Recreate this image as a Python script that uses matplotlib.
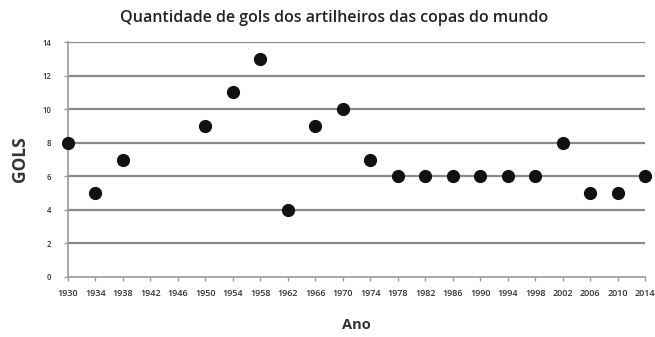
import matplotlib.pyplot as plt
import numpy as np

plt.rcParams['font.family'] = ['Open Sans', 'DejaVu Sans']

# world cup editions on a categorical axis; 1942 and 1946 had no tournament
anos = [str(a) for a in range(1930, 2015, 4)]
gols = [8, 5, 7, None, None, 9, 11, 13, 4, 9, 10, 7, 6, 6, 6, 6, 6, 6, 8, 5, 5, 6]
y_ticks = [0, 2, 4, 6, 8, 10, 12, 14]

fig = plt.figure(figsize=(6.55, 3.37), dpi=100)
ax = fig.add_axes([68 / 655, 60 / 337, 577 / 655, 235 / 337])

pos = np.arange(len(anos))
vals = np.array([np.nan if g is None else g for g in gols], dtype=float)
ax.plot(pos, vals, 'o', color='#111111', markersize=8.5, clip_on=False, zorder=3)

ax.set_xlim(0, len(anos) - 1)
ax.set_ylim(0, 14)
ax.set_xticks(pos)
ax.set_xticklabels(anos, fontsize=6.5, fontweight='semibold', color='#333333')
ax.set_yticks(y_ticks)
ax.set_yticklabels(y_ticks, fontsize=5.5, fontweight='semibold', color='#333333')

for y in y_ticks[1:]:
    ax.axhline(y, color='#8a8a8a', linewidth=1.6, zorder=1)

for side in ['top', 'right']:
    ax.spines[side].set_visible(False)
for side in ['left', 'bottom']:
    ax.spines[side].set_color('#9a9a9a')
    ax.spines[side].set_linewidth(1.2)
ax.tick_params(axis='x', length=3, width=1, color='#9a9a9a', pad=6)
ax.tick_params(axis='y', length=3, width=1, color='#9a9a9a', pad=9)

ax.set_xlabel('Ano', fontsize=10.5, fontweight='bold', color='#333333', labelpad=14)
ax.set_ylabel('GOLS', fontsize=12.5, fontweight='bold', color='#333333', labelpad=10)
fig.suptitle('Quantidade de gols dos artilheiros das copas do mundo',
             x=0.51, y=0.97, fontsize=11.5, fontweight='semibold', color='#222222')

fig.savefig('out.png', dpi=100)
